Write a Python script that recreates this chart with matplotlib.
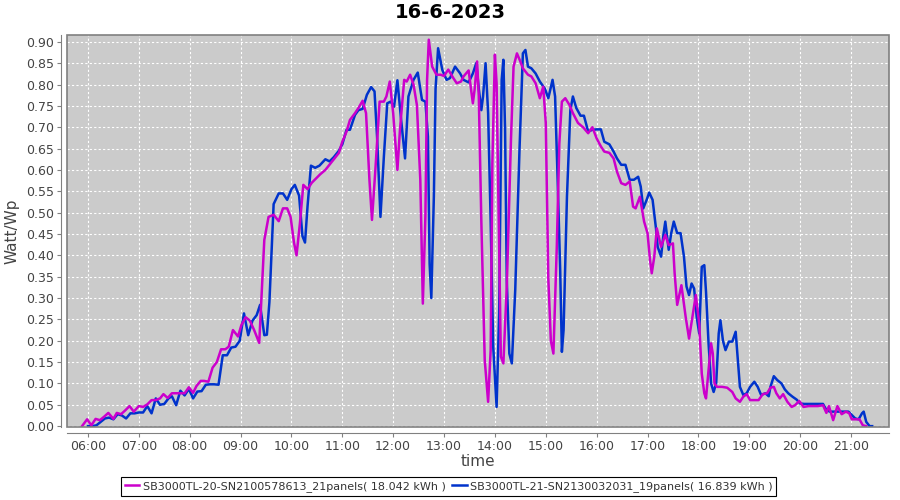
import matplotlib
matplotlib.use('Agg')
import matplotlib.pyplot as plt
from matplotlib.patches import Rectangle

title = '16-6-2023'
label_a = 'SB3000TL-20-SN2100578613_21panels( 18.042 kWh )'
label_b = 'SB3000TL-21-SN2130032031_19panels( 16.839 kWh )'

times_a = ['05:53', '05:59', '06:04', '06:09', '06:14', '06:19', '06:24', '06:30', '06:34', '06:39',
           '06:44', '06:49', '06:54', '07:00', '07:05', '07:10', '07:15', '07:20', '07:25', '07:29',
           '07:34', '07:39', '07:44', '07:49', '07:54', '07:59', '08:04', '08:08', '08:13', '08:17',
           '08:22', '08:27', '08:32', '08:37', '08:42', '08:46', '08:51', '08:57', '09:01', '09:06',
           '09:11', '09:16', '09:22', '09:28', '09:33', '09:39', '09:45', '09:50', '09:55', '09:59',
           '10:03', '10:06', '10:10', '10:14', '10:19', '10:24', '10:29', '10:34', '10:40', '10:44',
           '10:50', '10:56', '11:00', '11:05', '11:09', '11:15', '11:19', '11:24', '11:28', '11:32',
           '11:35', '11:39', '11:44', '11:49', '11:52', '11:56', '12:00', '12:05', '12:08', '12:13',
           '12:16', '12:20', '12:24', '12:28', '12:32', '12:35', '12:38', '12:40', '12:42', '12:46',
           '12:51', '12:56', '13:00', '13:05', '13:11', '13:15', '13:20', '13:23', '13:29', '13:34',
           '13:36', '13:39', '13:41', '13:44', '13:48', '13:52', '13:55', '13:57', '14:00', '14:02',
           '14:05', '14:07', '14:10', '14:14', '14:19', '14:22', '14:26', '14:30', '14:33', '14:39',
           '14:43', '14:48', '14:53', '14:57', '15:00', '15:03', '15:06', '15:09', '15:13', '15:16',
           '15:19', '15:23', '15:28', '15:32', '15:38', '15:44', '15:50', '15:55', '16:00', '16:05',
           '16:09', '16:15', '16:20', '16:24', '16:29', '16:34', '16:39', '16:43', '16:46', '16:51',
           '16:56', '17:00', '17:03', '17:05', '17:08', '17:11', '17:16', '17:21', '17:25', '17:30',
           '17:32', '17:35', '17:40', '17:45', '17:49', '17:53', '17:57', '18:01', '18:04', '18:07',
           '18:09', '18:12', '18:15', '18:17', '18:19', '18:22', '18:28', '18:34', '18:40', '18:44',
           '18:49', '18:53', '18:57', '19:01', '19:06', '19:11', '19:16', '19:21', '19:25', '19:29',
           '19:32', '19:36', '19:40', '19:45', '19:50', '19:54', '19:59', '20:04', '20:10', '20:16',
           '20:21', '20:27', '20:31', '20:34', '20:39', '20:44', '20:49', '20:54', '20:58', '21:01',
           '21:06', '21:10', '21:14', '21:18']
values_a = [0.000, 0.016, 0.002, 0.017, 0.014, 0.022, 0.031, 0.017, 0.031, 0.028,
            0.037, 0.047, 0.034, 0.047, 0.045, 0.051, 0.061, 0.061, 0.065, 0.075,
            0.066, 0.077, 0.077, 0.077, 0.077, 0.091, 0.078, 0.094, 0.106, 0.106,
            0.104, 0.137, 0.150, 0.180, 0.180, 0.186, 0.225, 0.210, 0.237, 0.255,
            0.247, 0.225, 0.195, 0.436, 0.490, 0.495, 0.480, 0.510, 0.510, 0.490,
            0.430, 0.400, 0.475, 0.565, 0.555, 0.570, 0.580, 0.590, 0.600, 0.610,
            0.625, 0.640, 0.666, 0.690, 0.717, 0.733, 0.745, 0.762, 0.733, 0.577,
            0.483, 0.600, 0.760, 0.760, 0.772, 0.807, 0.733, 0.600, 0.694, 0.811,
            0.807, 0.823, 0.800, 0.752, 0.577, 0.287, 0.490, 0.811, 0.905, 0.842,
            0.823, 0.823, 0.820, 0.835, 0.815, 0.803, 0.807, 0.819, 0.833, 0.756,
            0.787, 0.854, 0.772, 0.479, 0.155, 0.057, 0.178, 0.616, 0.870, 0.803,
            0.420, 0.163, 0.147, 0.327, 0.674, 0.842, 0.873, 0.854, 0.838, 0.823,
            0.819, 0.803, 0.768, 0.795, 0.710, 0.346, 0.200, 0.170, 0.420, 0.662,
            0.760, 0.768, 0.752, 0.733, 0.710, 0.700, 0.686, 0.700, 0.674, 0.655,
            0.643, 0.640, 0.627, 0.596, 0.569, 0.565, 0.573, 0.514, 0.510, 0.537,
            0.479, 0.452, 0.389, 0.358, 0.397, 0.463, 0.420, 0.448, 0.424, 0.428,
            0.358, 0.284, 0.330, 0.256, 0.205, 0.256, 0.307, 0.240, 0.123, 0.077,
            0.065, 0.131, 0.194, 0.170, 0.100, 0.092, 0.092, 0.090, 0.080, 0.065,
            0.057, 0.069, 0.075, 0.061, 0.061, 0.061, 0.075, 0.077, 0.090, 0.092,
            0.077, 0.065, 0.075, 0.057, 0.045, 0.049, 0.059, 0.045, 0.047, 0.047,
            0.047, 0.049, 0.031, 0.047, 0.014, 0.047, 0.028, 0.034, 0.030, 0.016,
            0.016, 0.016, 0.002, 0.000]

times_b = ['06:00', '06:05', '06:10', '06:15', '06:20', '06:25', '06:30', '06:35', '06:40', '06:45',
           '06:50', '06:55', '07:00', '07:05', '07:10', '07:15', '07:20', '07:25', '07:30', '07:35',
           '07:39', '07:44', '07:49', '07:54', '07:59', '08:04', '08:09', '08:14', '08:19', '08:24',
           '08:29', '08:34', '08:39', '08:44', '08:49', '08:54', '08:59', '09:04', '09:09', '09:14',
           '09:19', '09:23', '09:28', '09:31', '09:34', '09:39', '09:45', '09:50', '09:55', '10:00',
           '10:04', '10:09', '10:13', '10:16', '10:19', '10:23', '10:28', '10:33', '10:40', '10:45',
           '10:50', '10:56', '11:00', '11:05', '11:09', '11:15', '11:19', '11:24', '11:29', '11:34',
           '11:38', '11:41', '11:45', '11:49', '11:53', '11:57', '12:01', '12:05', '12:09', '12:14',
           '12:18', '12:24', '12:29', '12:34', '12:38', '12:41', '12:43', '12:45', '12:48', '12:50',
           '12:53', '12:58', '13:03', '13:07', '13:13', '13:19', '13:23', '13:29', '13:34', '13:38',
           '13:41', '13:44', '13:46', '13:49', '13:52', '13:55', '13:58', '14:02', '14:05', '14:08',
           '14:10', '14:12', '14:14', '14:17', '14:20', '14:24', '14:29', '14:33', '14:36', '14:39',
           '14:43', '14:48', '14:53', '14:59', '15:03', '15:08', '15:11', '15:14', '15:17', '15:19',
           '15:21', '15:25', '15:29', '15:32', '15:36', '15:41', '15:45', '15:50', '15:55', '16:00',
           '16:05', '16:09', '16:15', '16:20', '16:24', '16:29', '16:34', '16:39', '16:44', '16:49',
           '16:52', '16:55', '16:59', '17:02', '17:06', '17:10', '17:12', '17:16', '17:19', '17:21',
           '17:25', '17:28', '17:31', '17:35', '17:39', '17:43', '17:46', '17:49', '17:52', '17:55',
           '17:58', '18:01', '18:04', '18:07', '18:09', '18:12', '18:15', '18:18', '18:21', '18:24',
           '18:26', '18:29', '18:32', '18:36', '18:40', '18:44', '18:46', '18:49', '18:53', '18:57',
           '19:01', '19:06', '19:10', '19:14', '19:19', '19:23', '19:25', '19:29', '19:33', '19:38',
           '19:42', '19:46', '19:51', '19:56', '20:00', '20:05', '20:10', '20:16', '20:21', '20:27',
           '20:31', '20:35', '20:41', '20:46', '20:51', '20:57', '21:01', '21:05', '21:09', '21:13',
           '21:15', '21:18', '21:22', '21:25']
values_b = [0.000, 0.000, 0.002, 0.010, 0.018, 0.020, 0.016, 0.028, 0.025, 0.018,
            0.030, 0.030, 0.032, 0.032, 0.047, 0.030, 0.065, 0.050, 0.052, 0.065,
            0.070, 0.049, 0.083, 0.072, 0.087, 0.065, 0.081, 0.082, 0.097, 0.098,
            0.098, 0.097, 0.166, 0.166, 0.184, 0.186, 0.200, 0.264, 0.213, 0.247,
            0.260, 0.284, 0.213, 0.214, 0.290, 0.520, 0.545, 0.545, 0.530, 0.555,
            0.565, 0.540, 0.445, 0.430, 0.515, 0.610, 0.605, 0.610, 0.625, 0.620,
            0.630, 0.645, 0.660, 0.694, 0.694, 0.729, 0.740, 0.743, 0.776, 0.794,
            0.784, 0.678, 0.490, 0.630, 0.756, 0.760, 0.748, 0.810, 0.725, 0.627,
            0.772, 0.811, 0.828, 0.764, 0.760, 0.678, 0.380, 0.300, 0.538, 0.790,
            0.885, 0.834, 0.811, 0.815, 0.842, 0.826, 0.811, 0.805, 0.826, 0.850,
            0.790, 0.740, 0.772, 0.850, 0.733, 0.479, 0.186, 0.045, 0.264, 0.811,
            0.858, 0.694, 0.342, 0.170, 0.147, 0.320, 0.647, 0.873, 0.881, 0.842,
            0.838, 0.826, 0.807, 0.790, 0.768, 0.811, 0.772, 0.577, 0.366, 0.174,
            0.225, 0.538, 0.740, 0.772, 0.745, 0.727, 0.727, 0.690, 0.694, 0.695,
            0.695, 0.666, 0.660, 0.643, 0.627, 0.612, 0.612, 0.577, 0.577, 0.584,
            0.561, 0.510, 0.530, 0.547, 0.530, 0.463, 0.420, 0.397, 0.452, 0.479,
            0.413, 0.452, 0.479, 0.452, 0.452, 0.397, 0.327, 0.307, 0.334, 0.322,
            0.256, 0.217, 0.373, 0.377, 0.315, 0.194, 0.100, 0.080, 0.100, 0.217,
            0.248, 0.200, 0.178, 0.198, 0.198, 0.221, 0.170, 0.092, 0.073, 0.077,
            0.092, 0.104, 0.092, 0.073, 0.077, 0.070, 0.092, 0.117, 0.108, 0.100,
            0.086, 0.077, 0.069, 0.062, 0.053, 0.052, 0.052, 0.052, 0.052, 0.052,
            0.038, 0.034, 0.034, 0.034, 0.034, 0.034, 0.026, 0.018, 0.016, 0.030,
            0.034, 0.010, 0.000, 0.000]

hour_ticks = list(range(6, 22))


def to_hours(t):
    h, m = t.split(':')
    return int(h) + int(m) / 60.0


fig = plt.figure(figsize=(9, 5), dpi=100)
ax = fig.add_axes([0.0744, 0.146, 0.9134, 0.784])
ax.set_facecolor('#cbcbcb')

ax.plot([to_hours(t) for t in times_b], values_b, color='#0033cc', lw=1.8, zorder=3,
        label=label_b)
ax.plot([to_hours(t) for t in times_a], values_a, color='#cc00cc', lw=1.8, zorder=4,
        label=label_a)

ax.set_xlim(5.587, 21.748)
ax.set_ylim(-0.002, 0.916)

ax.set_xticks(hour_ticks)
ax.set_xticklabels(['%02d:00' % h for h in hour_ticks])
ax.set_yticks([i * 0.05 for i in range(19)])
ax.set_yticklabels(['%.2f' % (i * 0.05) for i in range(19)])

ax.grid(True, color='white', linestyle=(0, (2, 2)), linewidth=0.8)
ax.set_axisbelow(True)

# plot frame, axis lines pushed a bit outward like the original
ax.add_patch(Rectangle((0, 0), 1, 1, transform=ax.transAxes, fill=False,
                       edgecolor='#808080', lw=1.2, zorder=5, clip_on=False))
for s in ['top', 'right']:
    ax.spines[s].set_visible(False)
for s in ['left', 'bottom']:
    ax.spines[s].set_position(('outward', 4))
    ax.spines[s].set_color('#808080')

ax.tick_params(colors='#808080', labelcolor='#444444', labelsize=9, length=3, pad=2.5)

ax.set_xlabel('time', fontsize=11, color='#444444')
ax.set_ylabel('Watt/Wp', fontsize=11, color='#444444')
ax.xaxis.set_label_coords(0.5, -0.068)
ax.yaxis.set_label_coords(-0.058, 0.5)
fig.suptitle(title, fontsize=14, fontweight='bold', y=0.995)

handles, labels = ax.get_legend_handles_labels()
leg = fig.legend(handles[::-1], labels[::-1], loc='lower center', bbox_to_anchor=(0.4985, 0.004),
                 ncol=2, fontsize=8, frameon=True, fancybox=False, edgecolor='black',
                 framealpha=1, handlelength=1.3, handletextpad=0.3, columnspacing=0.6,
                 borderpad=0.35, borderaxespad=0.2)
leg.get_frame().set_linewidth(0.8)
for t in leg.get_texts():
    t.set_color('#333333')

fig.savefig('out.png', dpi=100)
